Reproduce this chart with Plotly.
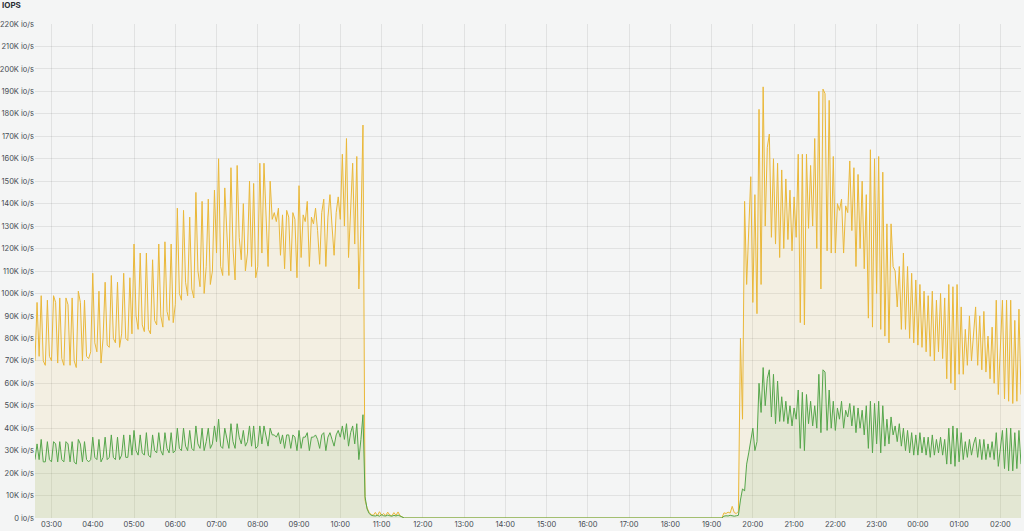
import pandas as pd
import plotly.graph_objects as go

# ---------------- data (values in K io/s, 3-minute samples) ----------------
# Morning load, starting 02:36
start_a = "2024-01-01 02:36"
read_a = [
    70, 96, 72, 99, 70, 68, 97, 72,
    70, 99, 96, 69, 98, 71, 68, 98, 95, 68, 98, 70, 67, 101, 96, 70, 97, 72, 71, 74,
    109, 78, 74, 101, 69, 80, 105, 77, 76, 108, 80, 78, 105, 76, 82, 109, 80, 79, 107, 82,
    122, 90, 84, 118, 86, 83, 118, 84, 82, 115, 88, 86, 122, 90, 85, 123, 92, 88, 122, 87,
    95, 138, 100, 97, 137, 105, 99, 134, 102, 98, 145, 110, 103, 141, 100, 112, 142, 104, 110, 146,
    118, 160, 112, 108, 147, 125, 108, 156, 120, 106, 157, 125, 115, 140, 110, 118, 150, 112, 149, 107,
    112, 158, 118, 158, 130, 112, 150, 133, 136, 132, 138, 117, 135, 111, 137, 134, 110, 136, 133, 107,
    148, 116, 135, 132, 141, 112, 134, 131, 138, 128, 113, 136, 142, 112, 134, 144, 130, 117, 136, 143,
    133, 162, 130, 169, 116, 140, 158, 122, 161, 102, 130, 175,
]
write_a = [
    26, 33, 26, 35, 25, 25, 34, 26,
    25, 34, 33, 25, 34, 26, 25, 34, 33, 25, 34, 25, 24, 35, 33, 25, 34, 26, 25, 26,
    36, 27, 26, 35, 25, 27, 36, 26, 27, 37, 27, 26, 36, 26, 28, 37, 27, 27, 37, 28,
    39, 30, 28, 37, 29, 28, 38, 28, 27, 37, 30, 29, 38, 30, 28, 38, 31, 29, 38, 29,
    30, 40, 31, 30, 40, 32, 30, 39, 31, 30, 41, 33, 31, 40, 30, 34, 40, 31, 33, 41,
    34, 44, 32, 31, 40, 36, 31, 42, 34, 31, 42, 36, 33, 39, 32, 34, 41, 32, 41, 31,
    32, 41, 33, 41, 36, 32, 40, 37, 37, 36, 38, 33, 37, 31, 37, 37, 31, 37, 36, 30,
    39, 31, 36, 36, 38, 30, 36, 36, 37, 35, 31, 37, 38, 30, 36, 38, 35, 32, 37, 39,
    36, 41, 35, 42, 32, 38, 41, 33, 42, 26, 35, 46,
]

# Tail after the drop, starting 10:36
start_b = "2024-01-01 10:36"
read_b = [8, 4.5, 2.5, 1.5, 1.2, 2.5, 1.0, 2.8, 1.2, 2.0, 1.1, 2.6, 1.3, 1.0, 2.4, 1.2, 2.7, 1.0, 0.3]
write_b = [9.5, 4, 2, 1.2, 1.0, 0.9, 1.2, 0.8, 1.5, 1.0, 0.9, 1.3, 1.0, 0.8, 1.2, 0.9, 1.3, 0.8, 0.2]

# Idle stretch
quiet_times = ["2024-01-01 11:33", "2024-01-01 19:15"]
quiet_read = [0, 0]
quiet_write = [0, 0]

# Small activity before the evening load, starting 19:18
start_c = "2024-01-01 19:18"
read_c = [2.3, 2.0, 2.6, 2.2, 5.2, 2.4, 2.0, 3.0]
write_c = [0.8, 1.0, 0.9, 1.2, 1.0, 0.8, 1.0, 1.2]

# Evening load, starting 19:42
start_d = "2024-01-01 19:42"
read_d = [
    80, 44, 141, 104, 125, 152, 96, 144, 91, 182,
    104, 192, 130, 165, 171, 125, 160, 122, 158, 116,
    155, 120, 151, 124, 146, 119, 143, 125, 162, 87,
    162, 86, 162, 129, 157, 130, 169, 120, 190, 102,
    191, 189, 119, 186, 118, 161, 118, 140, 137, 142,
    118, 139, 136, 159, 128, 156, 112, 153, 120, 150,
    111, 144, 89, 164, 85, 160, 100, 161, 84, 154,
    81, 131, 78, 131, 112, 110, 94, 112, 84, 118,
    84, 112, 80, 109, 78, 106, 77, 104, 76, 101,
    74, 99, 72, 101, 70, 97, 74, 100, 71, 98,
    62, 104, 60, 103, 57, 104, 64, 94, 64, 84,
    68, 90, 70, 82, 94, 68, 90, 66, 92, 65,
    81, 62, 85, 60, 97, 55, 80, 97, 53, 97,
    52, 97, 51, 88, 52, 93, 55,
]
write_d = [
    8, 13, 12, 24, 29, 35, 40, 30, 34, 60,
    47, 67, 50, 62, 66, 45, 64, 42, 61, 43,
    54, 43, 52, 42, 50, 41, 49, 44, 57, 31,
    56, 30, 55, 42, 52, 41, 50, 40, 64, 38,
    66, 65, 39, 57, 40, 52, 39, 49, 44, 52,
    40, 48, 45, 51, 41, 50, 38, 49, 40, 48,
    37, 50, 31, 52, 29, 51, 33, 52, 29, 50,
    32, 44, 33, 45, 37, 41, 34, 42, 32, 40,
    30, 39, 29, 38, 28, 37, 28, 38, 29, 36,
    28, 36, 27, 37, 28, 35, 29, 36, 28, 35,
    24, 40, 24, 41, 23, 40, 25, 38, 26, 34,
    27, 35, 28, 33, 36, 27, 35, 26, 35, 26,
    33, 27, 34, 26, 38, 23, 32, 39, 22, 40,
    21, 40, 21, 38, 22, 39, 24,
]

y_ticks = list(range(0, 230, 10))
y_tick_text = [f"{v}K io/s" if v else "0 io/s" for v in y_ticks]
x_range = ["2024-01-01 02:36", "2024-01-02 02:30"]

# ---------------- assemble ----------------
times, reads, writes = [], [], []
for start, r, w in [(start_a, read_a, write_a), (start_b, read_b, write_b)]:
    times += list(pd.date_range(start, periods=len(r), freq="3min"))
    reads += r
    writes += w
times += list(pd.to_datetime(quiet_times))
reads += quiet_read
writes += quiet_write
for start, r, w in [(start_c, read_c, write_c), (start_d, read_d, write_d)]:
    times += list(pd.date_range(start, periods=len(r), freq="3min"))
    reads += r
    writes += w

BG = "#f4f5f5"
GRID = "rgba(0,0,0,0.075)"
FONT = "Inter, Roboto, sans-serif"

fig = go.Figure()
fig.add_trace(go.Scatter(
    x=times, y=reads, mode="lines", name="read",
    line=dict(color="#EAB839", width=1),
    fill="tozeroy", fillcolor="rgba(234,184,57,0.10)",
))
fig.add_trace(go.Scatter(
    x=times, y=writes, mode="lines", name="write",
    line=dict(color="#56A64B", width=1),
    fill="tozeroy", fillcolor="rgba(86,166,75,0.10)",
))

fig.update_layout(
    width=1024, height=531,
    margin=dict(l=35, r=3, t=24, b=13),
    paper_bgcolor=BG, plot_bgcolor=BG,
    showlegend=False,
    font=dict(family=FONT, size=8, color="#464c54"),
    xaxis=dict(
        type="date", range=x_range,
        tick0="2024-01-01 03:00", dtick=3600000, tickformat="%H:%M",
        showgrid=True, gridcolor=GRID, gridwidth=1,
        zeroline=False, showline=False, ticks="",
        tickfont=dict(size=7.5, color="#464c54"),
        automargin=False,
    ),
    yaxis=dict(
        range=[0, 220], tickvals=y_ticks, ticktext=y_tick_text,
        showgrid=True, gridcolor=GRID, gridwidth=1,
        zeroline=False, showline=False, ticks="",
        tickfont=dict(size=7.5, color="#464c54"),
        automargin=False,
    ),
    annotations=[dict(
        text="<b>IOPS</b>", xref="paper", yref="paper",
        x=-35 / 986, y=1 + 19 / 494, xanchor="left", yanchor="middle",
        showarrow=False, font=dict(family=FONT, size=8, color="#2a2e33"),
    )],
)

fig.write_html(
    "out.html",
    config={"displayModeBar": False},
    post_script="document.body.style.margin='0';document.body.style.background='#f4f5f5';",
)
